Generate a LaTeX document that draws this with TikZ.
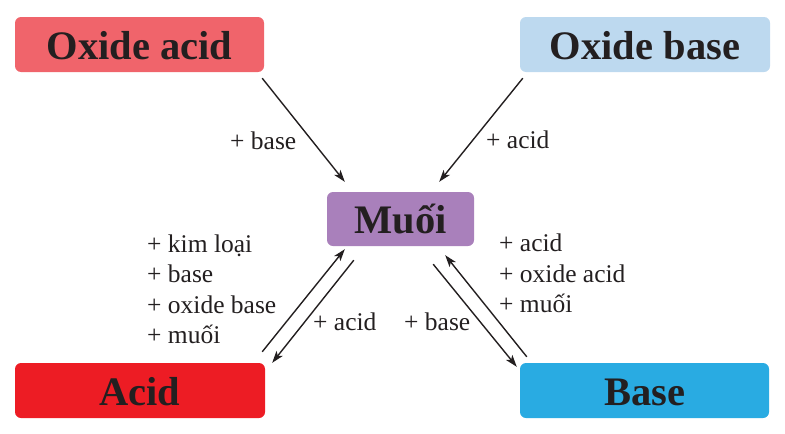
\documentclass[tikz,border=0pt]{standalone}
\usepackage{fontspec}
\setmainfont{Liberation Serif}
\usetikzlibrary{arrows.meta,calc}
\definecolor{txt}{HTML}{231F20}
\definecolor{coxa}{HTML}{F0646B}
\definecolor{coxb}{HTML}{BDD9EF}
\definecolor{cmu}{HTML}{A980BB}
\definecolor{cac}{HTML}{ED1C24}
\definecolor{cba}{HTML}{29ABE2}
\tikzset{
  box/.style={rounded corners=6pt, inner sep=0pt, text=txt,
    font=\fontsize{40.5}{40}\selectfont\bfseries,
    text height=29pt, text depth=0pt, minimum height=55pt},
  lbl/.style={anchor=base west, inner sep=0pt, text=txt,
    font=\fontsize{25.5}{30}\selectfont},
  arr/.style={-{Stealth[length=12pt,width=8pt,inset=3pt]}, line width=1.4pt, draw=txt}
}
\begin{document}
\begin{tikzpicture}[x=1pt,y=-1pt]
\useasboundingbox (0,0) rectangle (785,434);
% boxes
\node[box, fill=coxa, minimum width=249pt] (oa) at (139.5,44.5) {Oxide acid};
\node[box, fill=coxb, minimum width=250pt] (ob) at (645,44.5) {Oxide base};
\node[box, fill=cmu, minimum width=147pt, minimum height=54pt] (mu) at (400.5,219) {Muối};
\node[box, fill=cac, minimum width=250pt] (ac) at (140,390.5) {Acid};
\node[box, fill=cba, minimum width=249pt] (ba) at (644.5,390.5) {Base};
% arrows
\draw[arr] ($(oa.south east)+(-2,6)$) -- ($(mu.north west)+(18,-10)$);
\draw[arr] ($(ob.south west)+(3,6)$) -- ($(mu.north east)+(-35,-10)$);
\draw[arr] ($(ac.north east)+(-3,-11)$) -- ($(mu.south west)+(18,3)$);
\draw[arr] ($(mu.south west)+(27,14)$) -- ($(ac.north east)+(7,0)$);
\draw[arr] ($(ba.north west)+(7,-6)$) -- ($(mu.south east)+(-29,9)$);
\draw[arr] ($(mu.south east)+(-41,18)$) -- ($(ba.north west)+(-3,4)$);
% labels
\node[lbl] (l1) at (230,149) {+ base};
\node[lbl] (l2) at (486,148) {+ acid};
\node[lbl] (l3) at (147,252) {+ kim loại};
\node[lbl] (l4) at (147,282) {+ base};
\node[lbl] (l5) at (147,313) {+ oxide base};
\node[lbl] (l6) at (147,343) {+ muối};
\node[lbl] (l7) at (313,330) {+ acid};
\node[lbl] (l8) at (404,330) {+ base};
\node[lbl] (l9) at (499,251) {+ acid};
\node[lbl] (l10) at (499,282) {+ oxide acid};
\node[lbl] (l11) at (499,312) {+ muối};
\end{tikzpicture}
\end{document}
